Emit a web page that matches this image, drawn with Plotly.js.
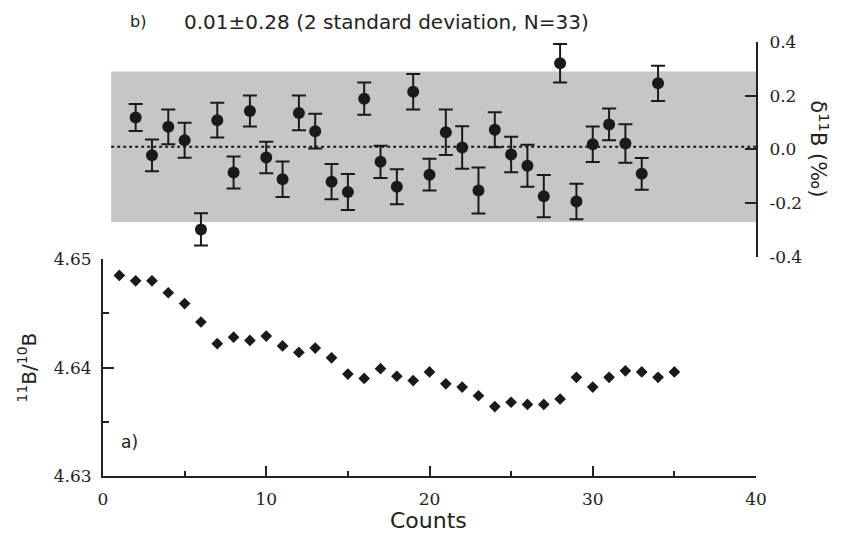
<!DOCTYPE html>
<html>
<head>
<meta charset="utf-8">
<script src="https://cdn.plot.ly/plotly-3.0.1.min.js"></script>
<style>html,body{margin:0;padding:0;background:#fff;}</style>
</head>
<body>
<div id="chart" style="width:841px;height:535px;"></div>
<script>
// a) 11B/10B ratio vs counts
const counts = [1,2,3,4,5,6,7,8,9,10,11,12,13,14,15,16,17,18,19,20,21,22,23,24,25,26,27,28,29,30,31,32,33,34,35];
const ratio = [4.6485,4.6480,4.6480,4.6469,4.6459,4.6442,4.6422,4.6428,4.6425,4.6429,4.6420,4.6414,4.6418,4.6409,4.6394,4.6390,4.6399,4.6392,4.6388,4.6396,4.6385,4.6382,4.6374,4.6364,4.6368,4.6366,4.6366,4.6371,4.6391,4.6382,4.6391,4.6397,4.6396,4.6391,4.6396];

// b) delta 11B with error bars
const deltaCounts = [2,3,4,5,6,7,8,9,10,11,12,13,14,15,16,17,18,19,20,21,22,23,24,25,26,27,28,29,30,31,32,33,34];
const delta = [0.119,-0.022,0.084,0.034,-0.298,0.109,-0.086,0.143,-0.030,-0.111,0.136,0.068,-0.120,-0.159,0.189,-0.046,-0.139,0.215,-0.094,0.064,0.007,-0.153,0.073,-0.019,-0.061,-0.174,0.321,-0.194,0.019,0.093,0.022,-0.091,0.246];
const deltaErr = [0.050,0.059,0.065,0.065,0.060,0.065,0.060,0.058,0.059,0.066,0.065,0.065,0.066,0.067,0.060,0.060,0.065,0.066,0.059,0.085,0.079,0.086,0.065,0.066,0.078,0.079,0.072,0.066,0.066,0.059,0.072,0.059,0.066];

const meanDelta = 0.01;
const twoSD = 0.28;
const bandStart = 0.5;
const bandEnd = 40;

const xTicks = [0,10,20,30,40];
const yTicks = [4.63,4.64,4.65];
const y2Ticks = [-0.4,-0.2,0.0,0.2,0.4];
const y2TickText = ['-0.4','-0.2','0.0','0.2','0.4'];

const ink = '#1a1a1a';
const tickFont = {family:'DejaVu Serif', size:17, color:'#222'};

const traces = [
  {
    type:'scatter', mode:'markers', x:counts, y:ratio, xaxis:'x', yaxis:'y',
    marker:{symbol:'diamond', size:9, color:ink}, cliponaxis:false, hoverinfo:'skip'
  },
  {
    type:'scatter', mode:'markers', x:deltaCounts, y:delta, xaxis:'x', yaxis:'y2',
    marker:{symbol:'circle', size:12, color:ink},
    error_y:{type:'data', array:deltaErr, visible:true, thickness:2, width:7, color:ink},
    cliponaxis:false, hoverinfo:'skip'
  },
  {
    type:'scatter', mode:'lines', x:[bandStart, bandEnd], y:[meanDelta, meanDelta], xaxis:'x', yaxis:'y2',
    line:{color:ink, width:2, dash:'dot'}, hoverinfo:'skip'
  }
];

const layout = {
  width:841, height:535,
  margin:{l:103, r:85, t:42, b:59},
  paper_bgcolor:'#fff', plot_bgcolor:'rgba(0,0,0,0)',
  showlegend:false,
  font:{family:'DejaVu Sans', color:'#222'},
  xaxis:{
    range:[0,40], anchor:'y', domain:[0,1],
    showline:true, linewidth:2, linecolor:'#222', showgrid:false, zeroline:false,
    ticks:'inside', ticklen:10, tickwidth:2, tickcolor:'#222',
    tickvals:xTicks, tickfont:tickFont, ticklabelstandoff:7,
    minor:{dtick:5, tick0:0, ticks:'inside', ticklen:5, tickwidth:2, tickcolor:'#222', showgrid:false}
  },
  yaxis:{
    range:[4.63,4.65], domain:[0,0.4997], anchor:'x',
    showline:true, linewidth:2, linecolor:'#222', showgrid:false, zeroline:false,
    ticks:'inside', ticklen:11, tickwidth:2, tickcolor:'#222',
    tickvals:yTicks, tickformat:'.2f', tickfont:tickFont, ticklabelstandoff:6,
    minor:{dtick:0.005, tick0:4.63, ticks:'inside', ticklen:6, tickwidth:2, tickcolor:'#222', showgrid:false},
    title:{text:'<sup>11</sup>B/<sup>10</sup>B', font:{family:'DejaVu Sans', size:20, color:'#222'}, standoff:12}
  },
  yaxis2:{
    range:[-0.4,0.4], domain:[0.505,1], anchor:'x', side:'right',
    showline:true, linewidth:2, linecolor:'#222', showgrid:false, zeroline:false,
    ticks:'inside', ticklen:11, tickwidth:2, tickcolor:'#222',
    tickvals:y2Ticks, ticktext:y2TickText, tickfont:tickFont, ticklabelstandoff:8
  },
  shapes:[
    {type:'rect', xref:'x', yref:'y2', x0:bandStart, x1:bandEnd, y0:meanDelta - twoSD, y1:meanDelta + twoSD,
     fillcolor:'#c6c6c6', line:{width:0}, layer:'below'}
  ],
  annotations:[
    {xref:'paper', yref:'paper', x:0.4992, y:-0.1335, text:'Counts', showarrow:false, xanchor:'center', yanchor:'bottom',
     borderpad:0, font:{family:'DejaVu Sans', size:22, color:'#222'}},
    {xref:'paper', yref:'paper', x:0.054, y:1.047, text:'b)', showarrow:false, xanchor:'center', yanchor:'middle',
     font:{family:'DejaVu Sans', size:16, color:'#222'}},
    {xref:'paper', yref:'paper', x:0.121, y:1.047, text:'0.01±0.28 (2 standard deviation, N=33)', showarrow:false,
     xanchor:'left', yanchor:'middle', font:{family:'DejaVu Sans', size:20, color:'#222'}},
    {xref:'paper', yref:'paper', x:0.041, y:0.078, text:'a)', showarrow:false, xanchor:'center', yanchor:'middle',
     font:{family:'DejaVu Sans', size:17, color:'#222'}},
    {xref:'paper', yref:'paper', x:1.0965, y:0.755, text:'δ<sup>11</sup>B (‰)', showarrow:false, textangle:90,
     xanchor:'center', yanchor:'middle', font:{family:'DejaVu Sans', size:21, color:'#222'}}
  ]
};

Plotly.newPlot('chart', traces, layout, {staticPlot:true, displayModeBar:false});
</script>
</body>
</html>
